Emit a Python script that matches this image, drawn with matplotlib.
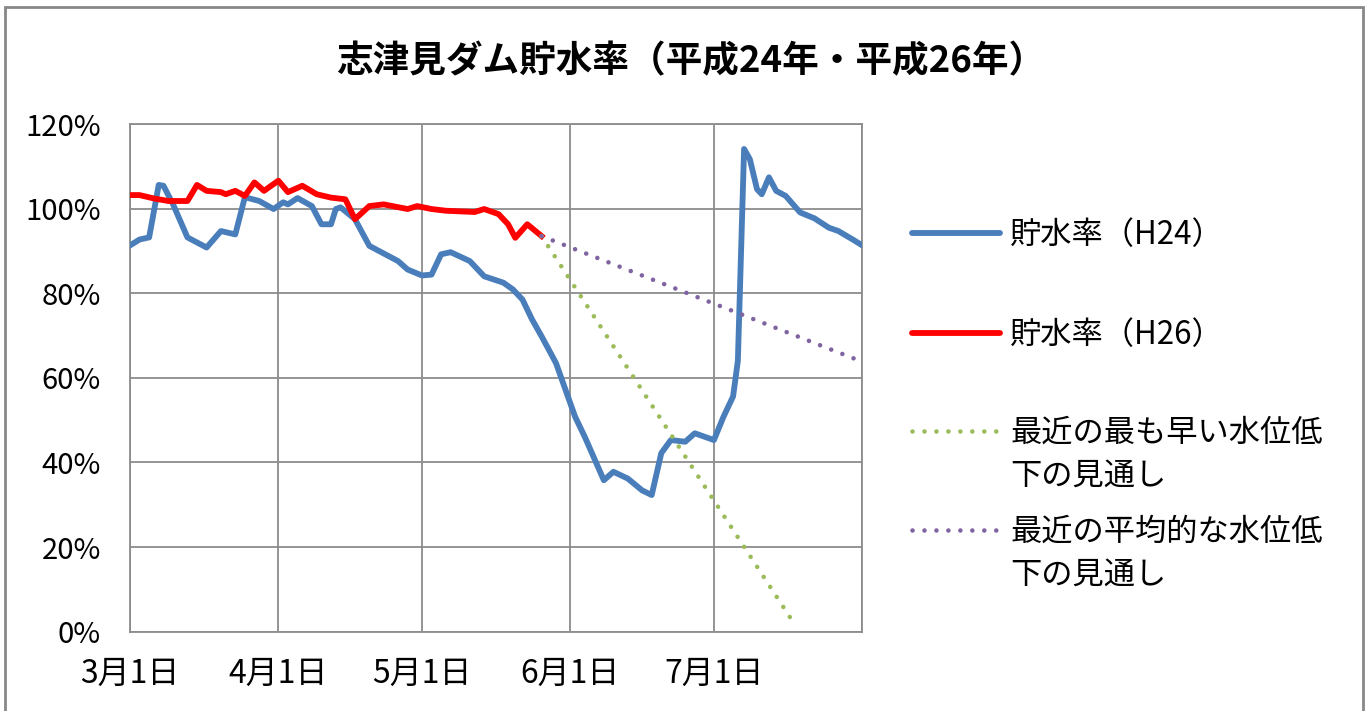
"""志津見ダム貯水率 (H24 / H26) with two drawdown projections."""

import matplotlib

matplotlib.use("Agg")
import matplotlib.pyplot as plt
from matplotlib.lines import Line2D
from matplotlib.patches import Rectangle
from matplotlib.ticker import FuncFormatter, MultipleLocator

plt.rcParams["font.family"] = ["Noto Sans CJK JP", "DejaVu Sans"]

# x = days since 3月1日, y = storage rate in %
H24_DAYS = [0, 2, 4, 6, 7, 9, 12, 16, 19, 22, 24, 27, 30, 32, 33, 35, 38, 40, 42, 43,
            44, 47, 50, 52, 56, 58, 61, 63, 65, 67, 71, 74, 78, 80, 82, 84, 86, 89,
            93, 95, 99, 101, 104, 107, 109, 111, 113, 116, 118, 122, 124, 126, 127,
            128.3, 129.5, 131, 132, 133.5, 135, 137, 140, 143, 146, 148, 151, 153]
H24_RATE = [91.3, 92.7, 93.2, 105.6, 105.4, 101.0, 93.2, 90.8, 94.7, 93.9, 102.7,
            101.8, 99.9, 101.5, 101.0, 102.5, 100.6, 96.3, 96.3, 99.9, 100.3, 97.5,
            91.2, 90.0, 87.6, 85.6, 84.2, 84.4, 89.2, 89.7, 87.6, 84.0, 82.5, 80.9,
            78.5, 73.8, 69.8, 63.5, 50.8, 46.1, 35.8, 37.8, 36.2, 33.4, 32.3, 42.2,
            45.3, 44.9, 46.9, 45.3, 50.8, 55.6, 64.0, 114.1, 111.7, 104.6, 103.4,
            107.4, 104.2, 103.0, 99.1, 97.7, 95.5, 94.7, 92.7, 91.3]

H26_DAYS = [0, 2, 5, 8, 11, 12, 14, 16, 19, 20, 22, 24, 26, 28, 31, 33, 36, 39, 42,
            45, 47, 50, 53, 58, 60, 63, 66, 72, 74, 77, 79, 80.5, 83, 86]
H26_RATE = [103.2, 103.2, 102.4, 101.8, 101.8, 101.8, 105.6, 104.2, 103.9, 103.4,
            104.2, 103.0, 106.2, 104.2, 106.6, 103.9, 105.4, 103.4, 102.6, 102.2,
            97.5, 100.6, 101.0, 99.9, 100.6, 99.9, 99.5, 99.2, 99.9, 98.7, 96.3,
            93.1, 96.3, 93.5]

# projections start from the last H26 value
FAST_DAYS = [86, 139]
FAST_RATE = [93.5, 1.5]
AVG_DAYS = [86, 153]
AVG_RATE = [93.5, 63.8]

TICK_DAYS = [0, 31, 61, 92, 122]
TICK_LABELS = ["3月1日", "4月1日", "5月1日", "6月1日", "7月1日"]

LABELS = ["貯水率（H24）", "貯水率（H26）",
          "最近の最も早い水位低\n下の見通し", "最近の平均的な水位低\n下の見通し"]
COLORS = ["#4A7EBB", "#FF0000", "#9BBB59", "#8064A2"]

W, H = 1372, 711
DOT = (0, (0.01, 2.6))


def main() -> None:
    fig = plt.figure(figsize=(W / 100, H / 100), dpi=100)
    ax = fig.add_axes([130 / W, 1 - 631.7 / H, 732.3 / W, 507.7 / H])

    ax.plot(H24_DAYS, H24_RATE, color=COLORS[0], lw=4.2, solid_joinstyle="round", zorder=3)
    ax.plot(H26_DAYS, H26_RATE, color=COLORS[1], lw=4.2, solid_joinstyle="round", zorder=4)
    ax.plot(FAST_DAYS, FAST_RATE, color=COLORS[2], lw=3.3, linestyle=DOT,
            dash_capstyle="round", zorder=5)
    ax.plot(AVG_DAYS, AVG_RATE, color=COLORS[3], lw=3.3, linestyle=DOT,
            dash_capstyle="round", zorder=5)

    ax.set_xlim(0, 153)
    ax.set_ylim(0, 120)
    ax.yaxis.set_major_locator(MultipleLocator(20))
    ax.yaxis.set_major_formatter(FuncFormatter(lambda v, _: f"{v:.0f}%"))
    ax.set_xticks(TICK_DAYS + [153])
    ax.set_xticklabels(TICK_LABELS + [""])
    ax.grid(True, color="#8C8C8C", lw=1.3)
    ax.set_axisbelow(True)
    for s in ax.spines.values():
        s.set_color("#8C8C8C")
        s.set_linewidth(1.3)
    ax.tick_params(axis="y", length=0, pad=21, labelsize=21, colors="#000000")
    ax.tick_params(axis="x", length=0, pad=19, labelsize=23, colors="#000000")

    fig.text(691 / W, 1 - 62 / H, "志津見ダム貯水率（平成24年・平成26年）",
             ha="center", va="center", fontsize=26.4, fontweight="bold")

    # hand-placed legend (Excel style spacing)
    rows = [233, 333, 431, 530]
    for y, lab, col, i in zip(rows, LABELS, COLORS, range(4)):
        ls = "-" if i < 2 else DOT
        fig.add_artist(Line2D([912 / W, 1000 / W], [1 - y / H, 1 - y / H],
                              color=col, lw=4.2 if i < 2 else 3.3, linestyle=ls,
                              dash_capstyle="round", solid_capstyle="round"))
        for k, line in enumerate(lab.split("\n")):
            fig.text(1010 / W, 1 - (y + 2 + 42.5 * k) / H, line, ha="left",
                     va="center", fontsize=22.5)

    fig.add_artist(Rectangle((5 / W, -0.01), 1358 / W, 1 - 7 / H + 0.01,
                             transform=fig.transFigure, fill=False,
                             edgecolor="#888888", lw=2))

    fig.savefig("out.png", dpi=100)


if __name__ == "__main__":
    main()
